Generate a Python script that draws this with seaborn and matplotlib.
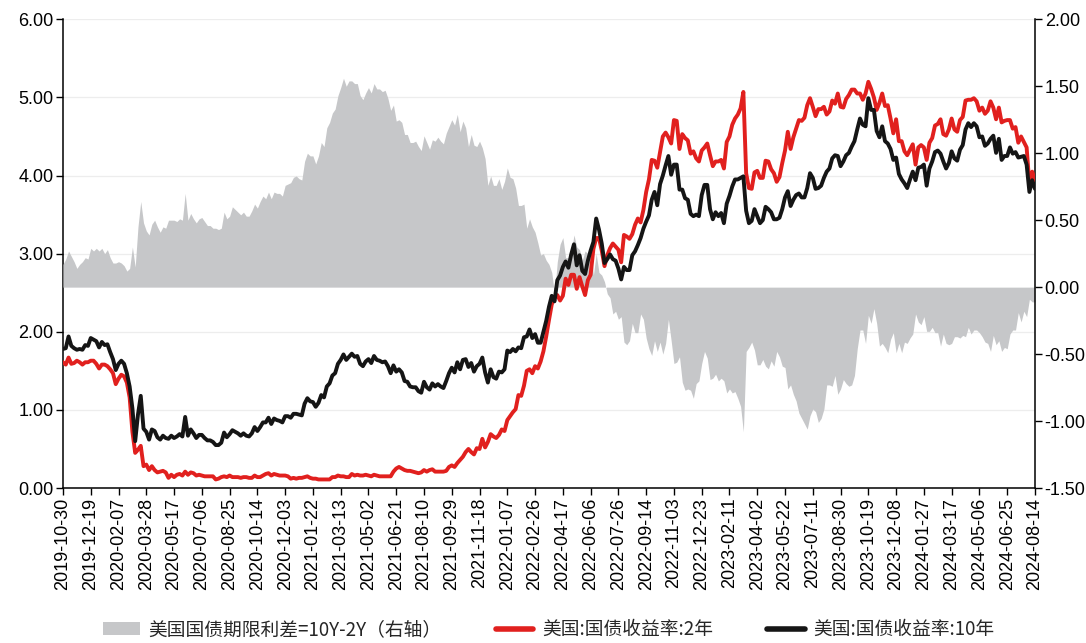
import matplotlib
matplotlib.use("Agg")
import matplotlib.pyplot as plt
import seaborn as sns
import pandas as pd
from matplotlib.patches import Patch
from matplotlib.lines import Line2D
from matplotlib.font_manager import FontProperties
import matplotlib.ticker as mticker

# ---------------- data (5-day samples) ----------------
start, end = "2019-10-30", "2024-08-14"
dates = pd.date_range(start, end, freq="5D")

y10 = [1.78,1.79,1.94,1.82,1.79,1.77,1.78,1.77,1.83,1.82,1.92,1.90,1.88,
       1.80,1.87,1.83,1.84,1.74,1.65,1.51,1.59,1.63,1.59,1.47,1.30,
       1.02,0.60,0.94,1.18,0.76,0.72,0.62,0.75,0.73,0.65,0.62,0.67,
       0.64,0.63,0.67,0.64,0.66,0.69,0.66,0.91,0.67,0.75,0.70,0.64,
       0.68,0.68,0.64,0.61,0.61,0.59,0.55,0.55,0.58,0.71,0.65,0.69,
       0.74,0.72,0.70,0.67,0.70,0.67,0.66,0.70,0.78,0.73,0.78,0.84,
       0.84,0.90,0.82,0.89,0.87,0.86,0.84,0.92,0.92,0.90,0.95,0.95,0.94,
       0.93,1.08,1.15,1.11,1.10,1.04,1.09,1.19,1.16,1.30,1.34,1.44,1.47,
       1.59,1.64,1.71,1.64,1.68,1.72,1.68,1.69,1.59,1.56,1.62,1.65,
       1.60,1.69,1.64,1.63,1.61,1.62,1.56,1.47,1.57,1.49,1.52,1.48,
       1.37,1.36,1.30,1.29,1.29,1.24,1.22,1.36,1.29,1.26,1.34,1.30,
       1.33,1.30,1.28,1.37,1.47,1.54,1.48,1.61,1.52,1.64,1.65,1.55,
       1.60,1.49,1.56,1.59,1.67,1.48,1.35,1.52,1.42,1.40,1.49,1.48,
       1.52,1.76,1.74,1.78,1.75,1.80,1.79,1.93,1.94,2.03,1.92,1.97,
       1.86,1.86,2.00,2.14,2.32,2.46,2.39,2.66,2.72,2.83,2.90,2.82,
       2.99,3.12,2.85,2.98,2.78,2.74,2.91,3.04,3.15,3.45,3.31,3.13,
       2.88,2.93,2.99,2.93,2.91,2.81,2.67,2.83,2.79,2.79,2.98,3.03,
       3.11,3.20,3.32,3.41,3.49,3.69,3.79,3.62,3.89,4.00,4.13,4.25,
       4.01,4.14,4.14,3.82,3.82,3.71,3.69,3.51,3.48,3.50,3.48,3.75,3.88,
       3.88,3.57,3.44,3.53,3.48,3.52,3.39,3.64,3.74,3.86,3.95,3.95,3.97,
       3.99,3.55,3.39,3.42,3.57,3.48,3.39,3.43,3.60,3.57,3.53,3.44,
       3.44,3.46,3.57,3.72,3.80,3.61,3.69,3.75,3.77,3.72,3.72,3.84,
       4.03,3.97,3.83,3.84,3.87,3.97,4.05,4.09,4.22,4.26,4.25,4.12,
       4.18,4.26,4.29,4.37,4.44,4.59,4.73,4.65,4.63,4.99,4.84,4.84,
       4.57,4.49,4.63,4.44,4.41,4.34,4.20,4.23,4.02,3.95,3.90,3.84,
       3.95,4.05,3.94,4.10,4.11,4.14,3.87,4.09,4.18,4.30,4.32,4.28,
       4.18,4.09,4.16,4.31,4.22,4.19,4.33,4.39,4.59,4.67,4.62,4.67,
       4.63,4.49,4.50,4.38,4.41,4.47,4.51,4.29,4.47,4.20,4.25,4.25,
       4.36,4.28,4.30,4.23,4.24,4.25,4.14,3.79,3.94,3.83]

y2 = [1.61,1.58,1.67,1.59,1.60,1.63,1.61,1.58,1.61,1.61,1.63,1.63,1.59,
      1.53,1.58,1.58,1.56,1.52,1.47,1.33,1.40,1.45,1.43,1.35,1.16,
      0.72,0.45,0.49,0.54,0.28,0.30,0.23,0.28,0.23,0.20,0.21,0.22,
      0.20,0.13,0.17,0.14,0.17,0.18,0.16,0.21,0.17,0.20,0.19,0.16,
      0.17,0.16,0.15,0.15,0.15,0.15,0.11,0.12,0.14,0.15,0.14,0.16,
      0.14,0.14,0.14,0.13,0.14,0.14,0.13,0.13,0.16,0.14,0.14,0.16,
      0.18,0.19,0.16,0.18,0.17,0.16,0.16,0.16,0.15,0.12,0.13,0.12,0.13,
      0.13,0.14,0.15,0.13,0.12,0.12,0.11,0.11,0.11,0.11,0.11,0.14,0.14,
      0.16,0.15,0.15,0.14,0.14,0.18,0.16,0.17,0.16,0.16,0.17,0.16,
      0.15,0.17,0.16,0.15,0.15,0.15,0.15,0.15,0.21,0.25,0.27,0.25,
      0.23,0.22,0.22,0.21,0.20,0.19,0.20,0.23,0.21,0.23,0.24,0.21,
      0.21,0.21,0.21,0.22,0.27,0.29,0.27,0.32,0.36,0.40,0.46,0.50,
      0.46,0.43,0.51,0.50,0.63,0.52,0.59,0.69,0.66,0.64,0.68,0.75,
      0.73,0.87,0.92,0.97,1.01,1.19,1.18,1.31,1.50,1.52,1.47,1.56,
      1.53,1.62,1.75,1.94,2.15,2.35,2.44,2.47,2.40,2.46,2.68,2.60,
      2.73,2.73,2.55,2.70,2.58,2.47,2.66,2.73,3.06,3.20,3.20,3.04,
      2.84,2.98,3.07,3.13,3.09,3.05,2.89,3.24,3.22,3.19,3.25,3.37,
      3.45,3.40,3.56,3.79,3.95,4.20,4.19,4.10,4.30,4.50,4.55,4.49,
      4.41,4.71,4.70,4.34,4.53,4.48,4.45,4.28,4.31,4.22,4.18,4.32,4.36,
      4.41,4.26,4.12,4.18,4.18,4.20,4.09,4.43,4.50,4.65,4.73,4.78,4.86,
      5.07,4.03,3.84,3.83,4.04,4.06,3.97,3.97,4.19,4.18,4.08,4.03,
      3.92,3.98,4.16,4.32,4.56,4.34,4.49,4.60,4.71,4.70,4.74,4.90,
      4.99,4.88,4.76,4.85,4.85,4.88,4.78,4.82,4.96,4.92,5.05,4.88,
      4.87,4.98,5.03,5.10,5.10,5.05,5.05,4.97,5.05,5.20,5.11,5.00,
      4.84,4.93,5.05,4.89,4.90,4.73,4.54,4.72,4.44,4.44,4.31,4.26,
      4.33,4.40,4.14,4.36,4.39,4.36,4.20,4.42,4.48,4.64,4.66,4.72,
      4.53,4.51,4.59,4.73,4.59,4.56,4.71,4.75,4.96,4.97,4.97,4.99,
      4.95,4.83,4.87,4.79,4.83,4.95,4.87,4.72,4.87,4.68,4.70,4.71,
      4.71,4.60,4.62,4.42,4.50,4.43,4.36,3.88,4.05,3.94]

spread = [0.17,0.21,0.27,0.23,0.19,0.14,0.17,0.19,0.22,0.21,0.29,0.27,0.29,
          0.27,0.29,0.25,0.28,0.22,0.18,0.18,0.19,0.18,0.16,0.12,0.14,
          0.30,0.15,0.45,0.64,0.48,0.42,0.39,0.47,0.50,0.45,0.41,0.45,
          0.44,0.50,0.50,0.50,0.49,0.51,0.50,0.70,0.50,0.55,0.51,0.48,
          0.51,0.52,0.49,0.46,0.46,0.44,0.44,0.43,0.44,0.56,0.51,0.53,
          0.60,0.58,0.56,0.54,0.56,0.53,0.53,0.57,0.62,0.59,0.64,0.68,
          0.66,0.71,0.66,0.71,0.70,0.70,0.68,0.76,0.77,0.78,0.82,0.83,0.81,
          0.80,0.94,1.00,0.98,0.98,0.92,0.98,1.08,1.05,1.19,1.23,1.30,1.33,
          1.43,1.49,1.56,1.50,1.54,1.54,1.52,1.52,1.43,1.40,1.45,1.49,
          1.45,1.52,1.48,1.48,1.46,1.47,1.41,1.32,1.36,1.24,1.25,1.23,
          1.14,1.14,1.08,1.08,1.09,1.05,1.02,1.13,1.08,1.03,1.10,1.09,
          1.12,1.09,1.07,1.15,1.20,1.25,1.21,1.29,1.16,1.24,1.19,1.05,
          1.14,1.06,1.05,1.09,1.04,0.96,0.76,0.83,0.76,0.76,0.81,0.73,
          0.79,0.89,0.82,0.81,0.74,0.61,0.61,0.62,0.44,0.51,0.45,0.41,
          0.33,0.24,0.25,0.20,0.17,0.11,-0.05,0.19,0.32,0.37,0.22,0.22,
          0.26,0.39,0.30,0.28,0.20,0.27,0.25,0.31,0.09,0.25,0.11,0.09,
          0.04,-0.05,-0.08,-0.20,-0.18,-0.24,-0.22,-0.41,-0.43,-0.40,-0.27,-0.34,
          -0.34,-0.20,-0.24,-0.38,-0.46,-0.51,-0.40,-0.48,-0.41,-0.50,-0.42,-0.24,
          -0.40,-0.57,-0.56,-0.52,-0.71,-0.77,-0.76,-0.77,-0.83,-0.72,-0.70,-0.57,-0.48,
          -0.53,-0.69,-0.68,-0.65,-0.70,-0.68,-0.70,-0.79,-0.76,-0.79,-0.78,-0.83,-0.89,
          -1.08,-0.48,-0.45,-0.41,-0.47,-0.58,-0.58,-0.54,-0.59,-0.61,-0.55,-0.59,
          -0.48,-0.52,-0.59,-0.60,-0.76,-0.73,-0.80,-0.85,-0.94,-0.98,-1.02,-1.06,
          -0.96,-0.91,-0.93,-1.01,-0.98,-0.91,-0.73,-0.73,-0.74,-0.66,-0.80,-0.76,
          -0.69,-0.72,-0.74,-0.73,-0.66,-0.46,-0.32,-0.32,-0.42,-0.21,-0.27,-0.16,
          -0.27,-0.44,-0.42,-0.45,-0.49,-0.39,-0.34,-0.49,-0.42,-0.49,-0.41,-0.42,
          -0.38,-0.35,-0.20,-0.26,-0.28,-0.22,-0.33,-0.33,-0.30,-0.34,-0.34,-0.44,
          -0.35,-0.42,-0.43,-0.42,-0.37,-0.37,-0.38,-0.36,-0.37,-0.30,-0.35,-0.32,
          -0.32,-0.34,-0.37,-0.41,-0.42,-0.48,-0.36,-0.43,-0.40,-0.48,-0.45,-0.46,
          -0.35,-0.32,-0.32,-0.19,-0.26,-0.18,-0.22,-0.09,-0.11,-0.11]

legend_labels = ["美国国债期限利差=10Y-2Y（右轴）", "美国:国债收益率:2年", "美国:国债收益率:10年"]
left_ticks = [0, 1, 2, 3, 4, 5, 6]
right_ticks = [-1.5, -1.0, -0.5, 0.0, 0.5, 1.0, 1.5, 2.0]

df = pd.DataFrame({"date": dates, "y2": y2, "y10": y10, "spread": spread})

# ---------------- styling ----------------
sns.set_theme(style="white")
plt.rcParams["font.family"] = ["Liberation Sans", "Noto Sans CJK SC", "DejaVu Sans"]

C_AREA = "#c6c7c9"
C_RED = "#e1201e"
C_BLACK = "#151515"

fig = plt.figure(figsize=(10.86, 6.43), dpi=100)
ax = fig.add_axes([0.058, 0.241, 0.895, 0.729])   # left scale, grid
ax2 = ax.twinx()                                   # right scale, spread area
ax3 = ax.twinx()                                   # left scale, lines on top

# spread area on right axis
ax2.fill_between(df["date"], 0, df["spread"], color=C_AREA, lw=0)

# yield lines
sns.lineplot(data=df, x="date", y="y2", ax=ax3, color=C_RED, lw=2.8, legend=False)
sns.lineplot(data=df, x="date", y="y10", ax=ax3, color=C_BLACK, lw=2.8, legend=False)

xmin, xmax = pd.Timestamp(start), pd.Timestamp(end)
for a in (ax, ax2, ax3):
    a.set_xlim(xmin, xmax)
    a.set_xlabel("")
    a.set_ylabel("")

ax.set_ylim(0, 6)
ax3.set_ylim(0, 6)
ax2.set_ylim(-1.5, 2.0)

ax.set_yticks(left_ticks)
ax.yaxis.set_major_formatter(mticker.FormatStrFormatter("%.2f"))
ax2.set_yticks(right_ticks)
ax2.yaxis.set_major_formatter(mticker.FormatStrFormatter("%.2f"))
ax3.yaxis.set_visible(False)

xt = pd.date_range(start, end, freq="50D")
ax.set_xticks(xt)
ax.set_xticklabels([d.strftime("%Y-%m-%d") for d in xt], rotation=90)

ax.grid(axis="y", color="#ededed", lw=0.9)
ax.grid(axis="x", visible=False)
ax2.grid(False)
ax3.grid(False)

for s in ax.spines.values():
    s.set_color("black"); s.set_linewidth(1.1)
ax.spines["top"].set_visible(False)
ax.spines["right"].set_visible(False)
for k, s in ax2.spines.items():
    s.set_visible(k == "right")
    s.set_color("black"); s.set_linewidth(1.1)
for s in ax3.spines.values():
    s.set_visible(False)

ax.tick_params(axis="y", left=True, direction="out", length=5, width=1,
               color="black", labelsize=13, labelcolor="black", pad=2)
ax.tick_params(axis="x", bottom=True, direction="out", length=5, width=1,
               color="black", labelsize=13, labelcolor="black", pad=2)
ax2.tick_params(axis="y", right=True, direction="out", length=5, width=1,
                color="black", labelsize=13, labelcolor="black", pad=2)

handles = [Patch(facecolor=C_AREA, edgecolor="none"),
           Line2D([0], [0], color=C_RED, lw=4),
           Line2D([0], [0], color=C_BLACK, lw=4)]
fig.legend(handles, legend_labels, loc="lower center", bbox_to_anchor=(0.505, -0.022),
           ncol=3, frameon=False, columnspacing=2.9, handlelength=2.0, handletextpad=0.45,
           prop=FontProperties(family=["Noto Sans CJK SC", "DejaVu Sans"], size=13.5))

fig.savefig("out.png", dpi=100)
